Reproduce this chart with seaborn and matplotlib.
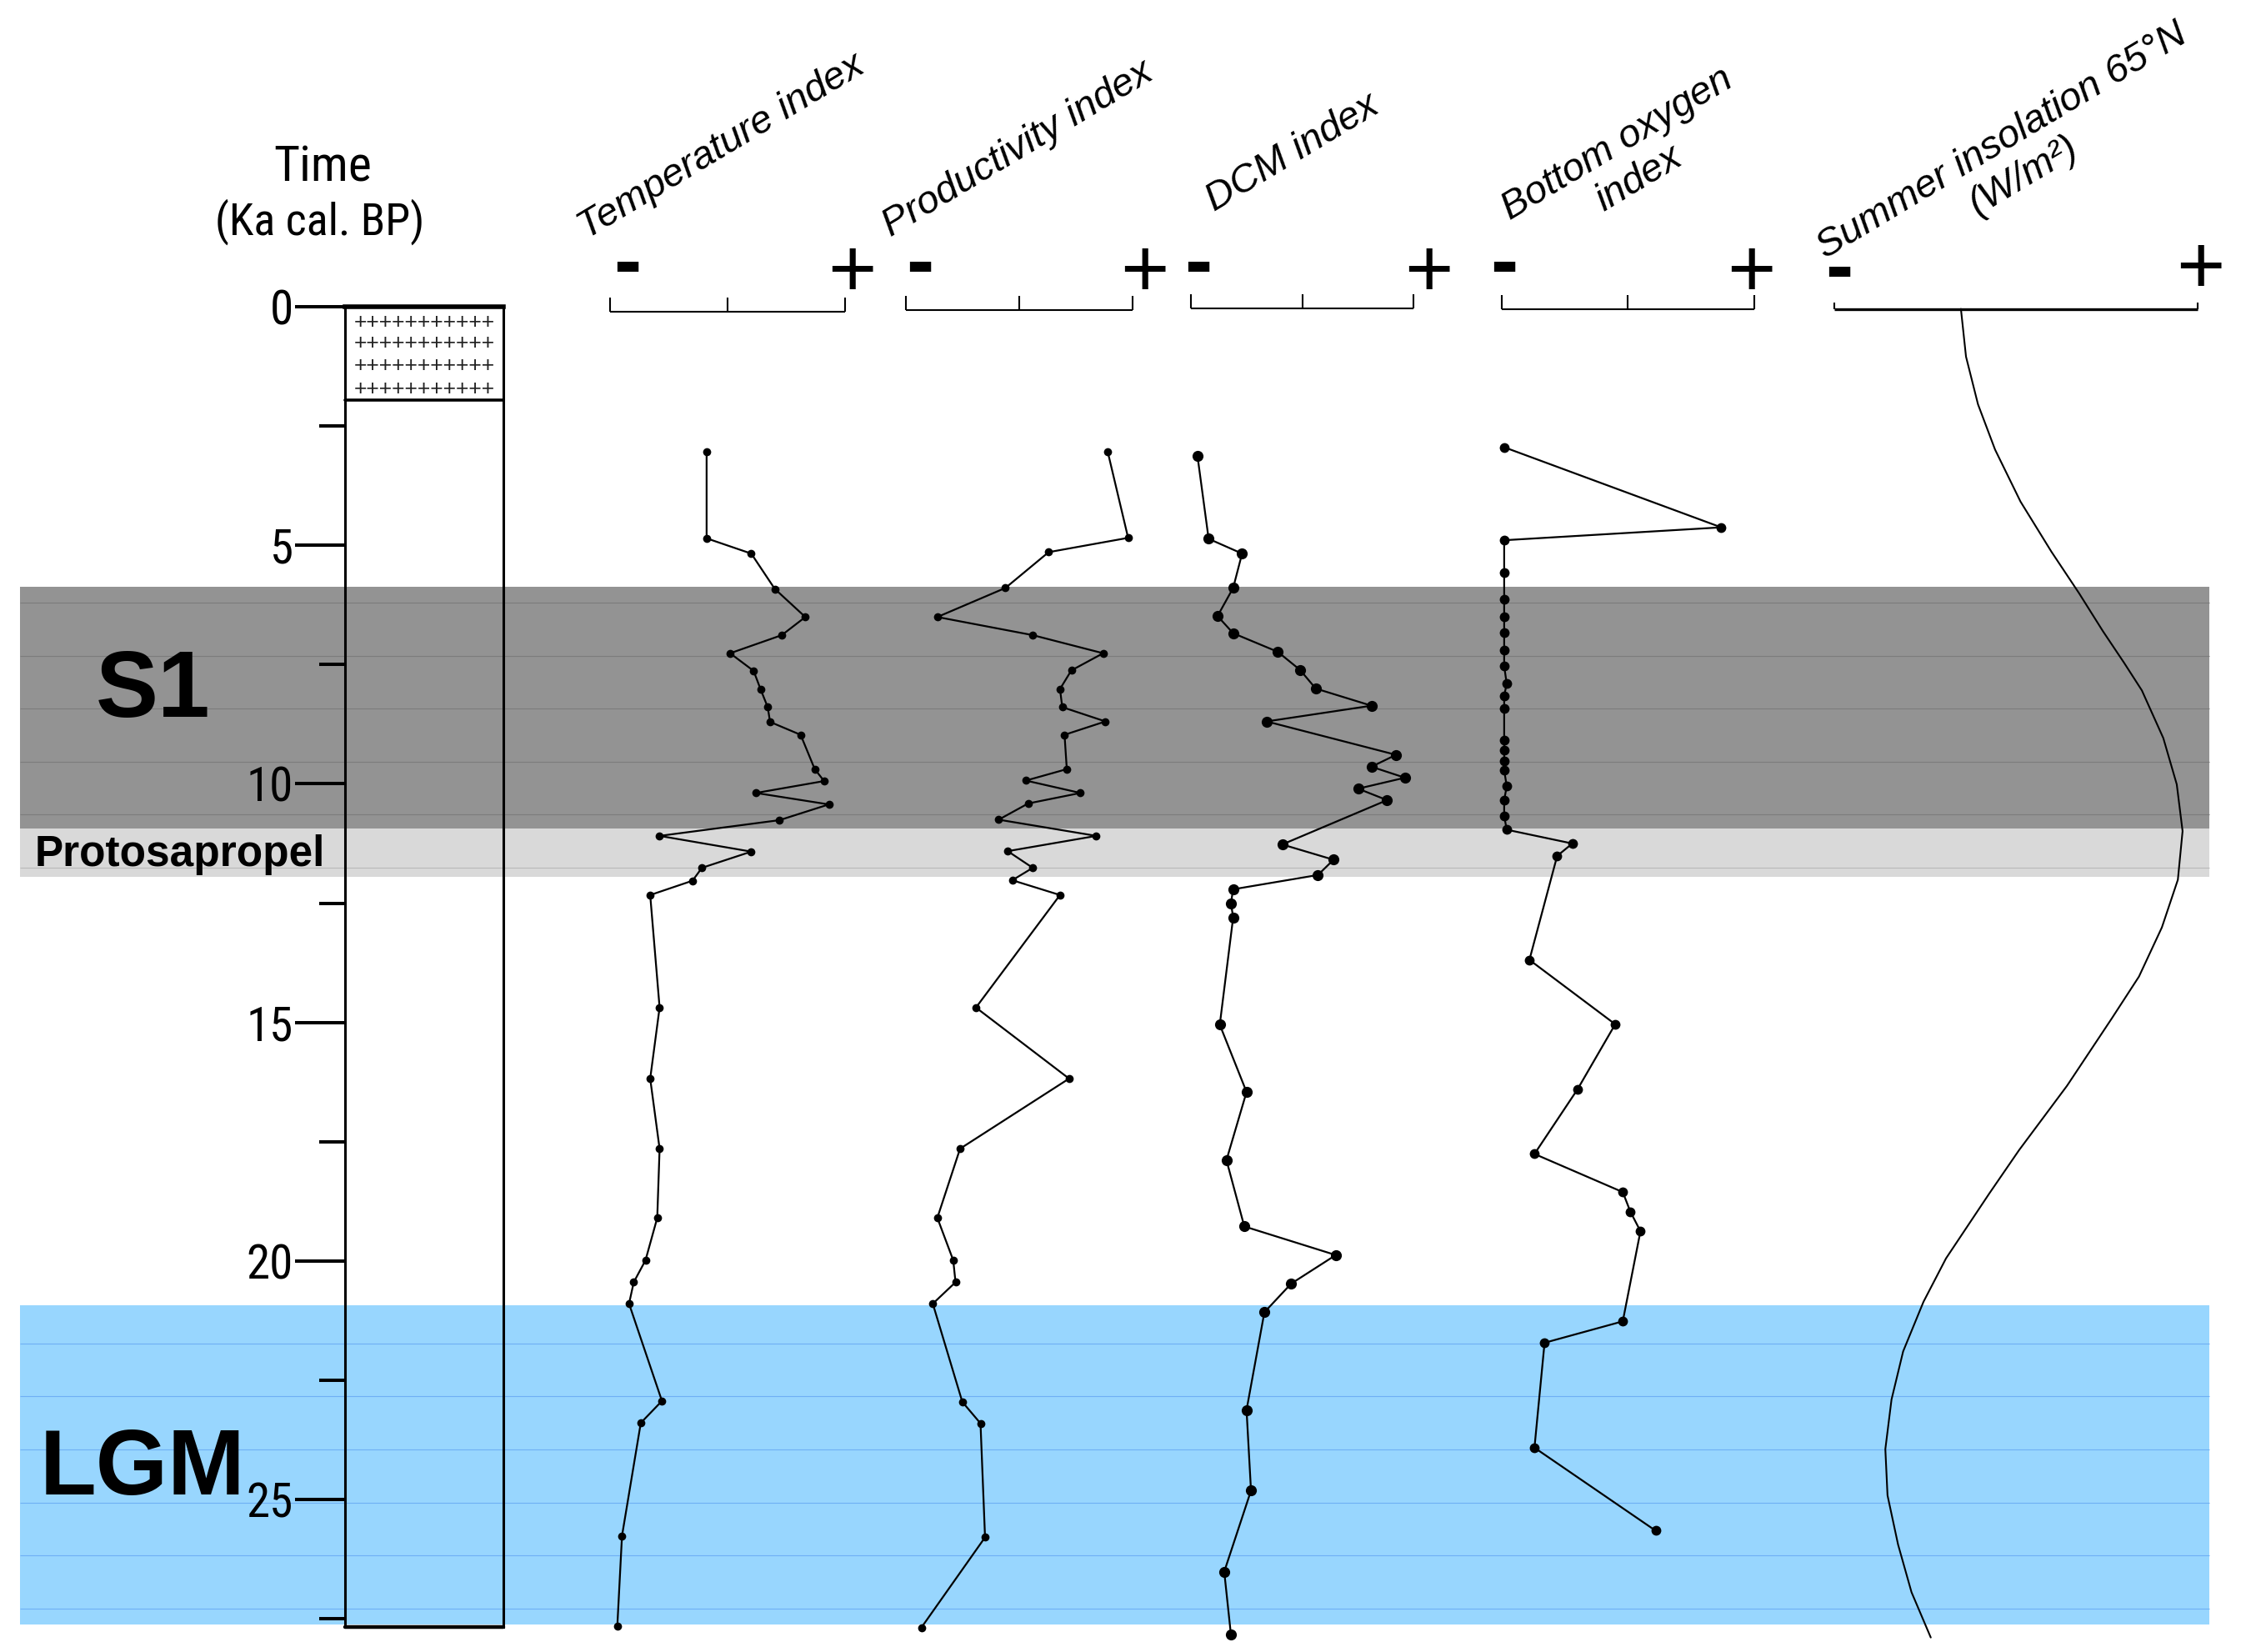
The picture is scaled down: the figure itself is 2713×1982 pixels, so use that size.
import numpy as np
import pandas as pd
import matplotlib
matplotlib.use("Agg")
import matplotlib.pyplot as plt
import seaborn as sns
from matplotlib.patches import Rectangle
from matplotlib import font_manager as fm

# ---------------- data ----------------
temp_age = [3.03, 4.85, 5.17, 5.91, 6.50, 6.88, 7.26, 7.63, 8.02, 8.39, 8.70, 8.97, 9.69, 9.94,
            10.19, 10.43, 10.76, 11.09, 11.42, 11.76, 12.03, 12.33, 14.69, 16.18, 17.65, 19.10,
            19.99, 20.45, 20.90, 22.94, 23.40, 25.77, 27.67]
temp_idx = [0.41, 0.41, 0.60, 0.70, 0.83, 0.73, 0.51, 0.61, 0.64, 0.67, 0.68, 0.81, 0.87, 0.91,
            0.62, 0.93, 0.72, 0.21, 0.60, 0.39, 0.35, 0.17, 0.21, 0.17, 0.21, 0.20,
            0.15, 0.10, 0.08, 0.22, 0.13, 0.05, 0.03]

prod_age = [3.03, 4.84, 5.14, 5.89, 6.50, 6.88, 7.26, 7.62, 8.01, 8.39, 8.69, 8.97, 9.69, 9.93,
            10.19, 10.41, 10.75, 11.09, 11.41, 11.76, 12.02, 12.33, 14.69, 16.18, 17.65, 19.10,
            19.99, 20.45, 20.90, 22.96, 23.41, 25.80, 27.69]
prod_idx = [0.89, 0.98, 0.63, 0.44, 0.14, 0.56, 0.87, 0.73, 0.68, 0.69, 0.88, 0.70, 0.71, 0.53,
            0.77, 0.54, 0.41, 0.84, 0.45, 0.56, 0.47, 0.68, 0.31, 0.72, 0.24, 0.14,
            0.21, 0.22, 0.12, 0.25, 0.33, 0.35, 0.07]

dcm_age = [3.12, 4.86, 5.17, 5.89, 6.48, 6.84, 7.23, 7.61, 8.00, 8.36, 8.69, 9.39, 9.64, 9.87,
           10.10, 10.34, 11.27, 11.59, 11.91, 12.21, 12.50, 12.80, 15.05, 16.46, 17.89, 19.28,
           19.88, 20.48, 21.08, 23.13, 24.82, 26.52, 27.84]
dcm_idx = [0.03, 0.08, 0.23, 0.19, 0.12, 0.19, 0.39, 0.49, 0.56, 0.81, 0.34, 0.92, 0.81, 0.96,
           0.75, 0.88, 0.41, 0.64, 0.57, 0.19, 0.18, 0.19, 0.13, 0.25, 0.16, 0.24,
           0.65, 0.45, 0.33, 0.25, 0.27, 0.15, 0.18]

oxy_age = [2.94, 4.62, 4.89, 5.57, 6.12, 6.49, 6.83, 7.20, 7.53, 7.90, 8.15, 8.42, 9.08, 9.30,
           9.52, 9.71, 10.05, 10.34, 10.67, 10.96, 11.25, 11.51, 13.69, 15.04, 16.41, 17.76,
           18.56, 18.97, 19.38, 21.27, 21.72, 23.92, 25.66]
oxy_idx = [0.01, 0.87, 0.01, 0.01, 0.01, 0.01, 0.01, 0.01, 0.01, 0.02, 0.01, 0.01, 0.01, 0.01,
           0.01, 0.01, 0.02, 0.01, 0.01, 0.02, 0.28, 0.22, 0.11, 0.45, 0.30, 0.13,
           0.48, 0.51, 0.55, 0.48, 0.17, 0.13, 0.61]

ins_age = [0.04, 1.04, 2.04, 2.99, 4.08, 5.13, 6.00, 6.80, 7.46, 8.04, 9.04, 10.01, 10.99, 12.01,
           13.01, 14.04, 14.92, 16.33, 17.68, 18.59, 19.95, 20.86, 21.90, 22.91, 23.95, 24.92,
           25.95, 26.95, 27.90]
ins_idx = [0.348, 0.362, 0.395, 0.442, 0.512, 0.597, 0.673, 0.739, 0.797, 0.846, 0.905, 0.942,
           0.958, 0.945, 0.901, 0.838, 0.763, 0.640, 0.508, 0.426, 0.307, 0.245, 0.189, 0.157,
           0.140, 0.146, 0.175, 0.212, 0.265]

panel_titles = ["Temperature index", "Productivity index", "DCM index",
                "Bottom oxygen\nindex", "Summer insolation 65°N\n(W/m²)"]

band_labels = ["S1", "Protosapropel", "LGM"]
band_top = [5.87, 10.94, 20.93]
band_bottom = [10.94, 11.95, 27.63]
band_colors = ["#939393", "#d9d9d9", "#98d6fe"]
seam_s1 = [6.20, 7.31, 8.42, 9.54, 10.64]
seam_proto = [11.76]
seam_lgm = [21.74, 22.84, 23.96, 25.08, 26.18, 27.29]

time_major = [0, 5, 10, 15, 20, 25]
time_minor = [2.5, 7.5, 12.5, 17.5, 22.5, 27.5]
core_bottom = 27.68
crosses_bottom = 1.95

# ---------------- style ----------------
sns.set_style("white")
plt.rcParams["font.family"] = ["Liberation Sans", "DejaVu Sans"]
for k in ["text.color", "axes.labelcolor", "xtick.color", "ytick.color"]:
    plt.rcParams[k] = "black"

_names = {f.name for f in fm.fontManager.ttflist}
_cond = [n for n in ["Liberation Sans Narrow", "Arial Narrow", "Roboto Condensed"]
         if n in _names]
if _cond:
    NARROW = [_cond[0], "Liberation Sans", "DejaVu Sans"]
    NSCALE = 1.0
else:
    NARROW = ["Liberation Sans", "DejaVu Sans"]
    NSCALE = 0.86

SW, SH = 1568.0, 1146.0          # layout units (shown-scale pixels)
PX_KA = 33.08
Y0 = 213.0
T_TOP = -Y0 / PX_KA
T_BOT = (SH - Y0) / PX_KA

def fx(sx):
    return sx / SW

def ty(sy):
    return (sy - Y0) / PX_KA

fig = plt.figure(figsize=(27.13, 19.82), dpi=100)

# background axes (bands, labels)
ax_bg = fig.add_axes([0, 0, 1, 1])
ax_bg.set_xlim(0, 1)
ax_bg.set_ylim(T_BOT, T_TOP)
ax_bg.axis("off")

BX0, BX1 = fx(14), fx(1532)
for top, bot, col in zip(band_top, band_bottom, band_colors):
    ax_bg.axhspan(top, bot, xmin=BX0, xmax=BX1, color=col, lw=0, zorder=0)
ax_bg.hlines(seam_s1, BX0, BX1, colors="#7c7c7c", lw=0.8, zorder=0.5)
ax_bg.hlines(seam_proto, BX0, BX1, colors="#b8b8b8", lw=0.8, zorder=0.5)
ax_bg.hlines(seam_lgm, BX0, BX1, colors="#6fb0f5", lw=0.8, zorder=0.5)

ax_bg.text(fx(106), ty(497), band_labels[0], fontsize=81, fontweight="bold",
           ha="center", va="baseline")
ax_bg.text(fx(24), ty(601), band_labels[1], fontsize=37, fontweight="bold",
           ha="left", va="baseline")
ax_bg.text(fx(99), ty(1037), band_labels[2], fontsize=80, fontweight="bold",
           ha="center", va="baseline")

ax_bg.text(fx(224), ty(126), "Time", fontsize=43 * NSCALE, family=NARROW,
           ha="center", va="baseline")
ax_bg.text(fx(222), ty(163), "(Ka cal. BP)", fontsize=39 * NSCALE, family=NARROW,
           ha="center", va="baseline")

title_pos = [(500.5, 102), (705.6, 103.5), (896.5, 106), (1129, 112), (1396, 110)]
for (sx, sy), title in zip(title_pos, panel_titles):
    ax_bg.text(fx(sx), ty(sy), title, fontsize=34, style="italic", rotation=31,
               rotation_mode="anchor", ha="center", va="center",
               multialignment="center", linespacing=1.15)

# time axis + core column
ax_t = fig.add_axes([fx(239.4), 0, fx(348.8) - fx(239.4), 1])
ax_t.set_xlim(0, 1)
ax_t.set_ylim(T_BOT, T_TOP)
ax_t.set_frame_on(False)
ax_t.set_xticks([])
ax_t.set_yticks(time_major)
ax_t.set_yticklabels([str(v) for v in time_major], family=NARROW)
ax_t.set_yticks(time_minor, minor=True)
ax_t.tick_params(axis="y", which="both", left=True, labelleft=True, direction="out",
                 color="black")
ax_t.tick_params(axis="y", which="major", length=43, width=2.9,
                 labelsize=41 * NSCALE, pad=2)
ax_t.tick_params(axis="y", which="minor", length=22, width=2.9)
ax_t.add_patch(Rectangle((0, 0), 1, core_bottom, fill=False, ec="black", lw=2.2,
                         clip_on=False, zorder=3))
ax_t.plot([0, 1], [0, 0], color="black", lw=4, solid_capstyle="projecting", clip_on=False)
ax_t.plot([0, 1], [crosses_bottom, crosses_bottom], color="black", lw=2.6, clip_on=False)
ax_t.plot([0, 1], [core_bottom, core_bottom], color="black", lw=3.2, clip_on=False)
for row_t in [0.32, 0.76, 1.24, 1.72]:
    ax_t.text(0.5, row_t, "+" * 11, fontsize=19, ha="center", va="center",
              color="#222222")

# data panels
panels = [
    dict(age=temp_age, val=temp_idx, x0=423.2, x1=586.2, ms=7.0, bar=0.10, sign=(0.072, 1.029)),
    dict(age=prod_age, val=prod_idx, x0=628.0, x1=785.5, ms=7.0, bar=0.06, sign=(0.063, 1.052)),
    dict(age=dcm_age, val=dcm_idx, x0=825.8, x1=980.5, ms=9.5, bar=0.03, sign=(0.034, 1.065)),
    dict(age=oxy_age, val=oxy_idx, x0=1041.4, x1=1216.4, ms=8.5, bar=0.05, sign=(0.009, 0.990)),
    dict(age=ins_age, val=ins_idx, x0=1272.2, x1=1524.2, ms=0, bar=0.05, sign=(0.012, 1.006)),
]

for i, p in enumerate(panels):
    ax = fig.add_axes([fx(p["x0"]), 0, fx(p["x1"]) - fx(p["x0"]), 1])
    df = pd.DataFrame({"index": p["val"], "age": p["age"]})
    if p["ms"] > 0:
        sns.lineplot(data=df, x="index", y="age", orient="y", sort=False, estimator=None,
                     ax=ax, color="black", lw=1.6, marker="o", markersize=p["ms"],
                     markeredgecolor="black", markeredgewidth=0, clip_on=False)
    else:
        sns.lineplot(data=df, x="index", y="age", orient="y", sort=False, estimator=None,
                     ax=ax, color="black", lw=1.5, clip_on=False)
    ax.set_xlim(0, 1)
    ax.set_ylim(T_BOT, T_TOP)
    ax.axis("off")
    # scale bar
    is_ins = (i == 4)
    bar_lw = 2.4 if is_ins else 1.5
    tick_h = 0.14 if is_ins else 0.30
    ax.plot([0, 1], [p["bar"], p["bar"]], color="black", lw=bar_lw, clip_on=False,
            solid_capstyle="butt")
    ticks = [0, 1] if is_ins else [0, 0.5, 1]
    ax.vlines(ticks, p["bar"] - tick_h, p["bar"], colors="black", lw=1.5, clip_on=False)
    # - / + signs
    minus_y = ty(188.4) if is_ins else ty(185.4)
    plus_y = ty(183.6) if is_ins else ty(185.4)
    ax.text(p["sign"][0], minus_y + 0.45, "-", fontsize=72, fontweight="bold",
            ha="center", va="baseline", clip_on=False)
    ax.text(p["sign"][1], plus_y + 0.61, "+", fontsize=72, ha="center", va="baseline",
            clip_on=False)

fig.savefig("out.png", dpi=100)
